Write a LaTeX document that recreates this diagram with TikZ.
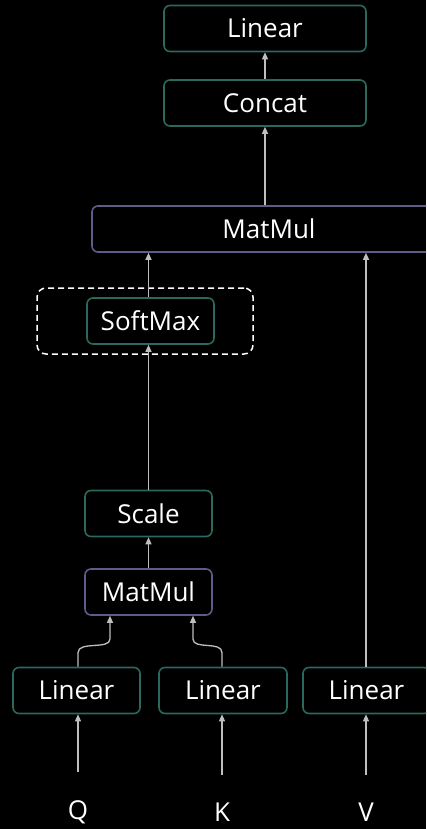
\documentclass[tikz,border=0pt]{standalone}
\usepackage{fontspec}
\setmainfont{Open Sans}
\usetikzlibrary{arrows.meta, positioning}

\definecolor{opgreen}{RGB}{44,104,92}
\definecolor{mmpurple}{RGB}{96,92,138}
\definecolor{edgegray}{RGB}{190,190,190}

\begin{document}
\begin{tikzpicture}[
        x=1pt, y=-1pt,
        >={Triangle[width=6pt, length=7pt]},
        op/.style={draw=opgreen, line width=1.6pt, rounded corners=6pt, minimum height=46pt,
            inner sep=0pt, text=white, font=\fontsize{26}{28}\selectfont},
        mm/.style={op, draw=mmpurple},
        e/.style={->, line width=1.3pt, draw=edgegray},
        lbl/.style={text=white, inner sep=0pt, font=\fontsize{26}{28}\selectfont}
    ]
        \useasboundingbox (0,0) rectangle (426,829);
        \clip (0,0) rectangle (426,829);
        \fill[black] (0,0) rectangle (426,829);

        % output side
        \node[op, minimum width=202pt] (out) at (265,28.5) {Linear};
        \node[op, minimum width=202pt] (cat) at (265,103) {Concat};
        \node[mm, minimum width=354pt] (mmv) at (269,229) {MatMul};

        % attention weights
        \node[draw=white, dash pattern=on 6pt off 4pt, line width=1.5pt, rounded corners=9pt,
            minimum width=216pt, minimum height=66pt] (smbox) at (145,321) {};
        \node[op, minimum width=127pt] (sm) at (150.5,321) {SoftMax};
        \node[op, minimum width=127pt] (sc) at (148.5,513.5) {Scale};
        \node[mm, minimum width=127pt] (mmqk) at (148.5,592) {MatMul};

        % projections
        \node[op, minimum width=127pt] (lq) at (76.5,690.5) {Linear};
        \node[op, minimum width=128pt] (lk) at (223,690.5) {Linear};
        \node[op, minimum width=127pt] (lv) at (366.5,690.5) {Linear};

        \node[lbl] (q) at (78,812) {Q};
        \node[lbl] (k) at (222,812) {K};
        \node[lbl] (v) at (366,812) {V};

        \coordinate (qbend) at (110,639);
        \coordinate (kbend) at (193,639);

        \draw[e] ([yshift=28pt]q.north) -- (q.north |- lq.south);
        \draw[e] ([yshift=28pt]k.north) -- (k.north |- lk.south);
        \draw[e] ([yshift=28pt]v.north) -- (v.north |- lv.south);

        \draw[e] (q.north |- lq.north) -- ++(0,-14) .. controls +(0,-12) and +(0,11) .. (qbend) -- (qbend |- mmqk.south);
        \draw[e] (k.north |- lk.north) -- ++(0,-14) .. controls +(0,-12) and +(0,11) .. (kbend) -- (kbend |- mmqk.south);

        \draw[e] (mmqk) -- (sc);
        \draw[e] (sc) -- (sm.south -| sc.north);
        \draw[e] (sm.north -| sc.north) -- (mmv.south -| sc.north);
        \draw[e] (v.north |- lv.north) -- (v.north |- mmv.south);
        \draw[e] (mmv.north -| cat.south) -- (cat.south);
        \draw[e] (cat) -- (out);
    \end{tikzpicture}
\end{document}
